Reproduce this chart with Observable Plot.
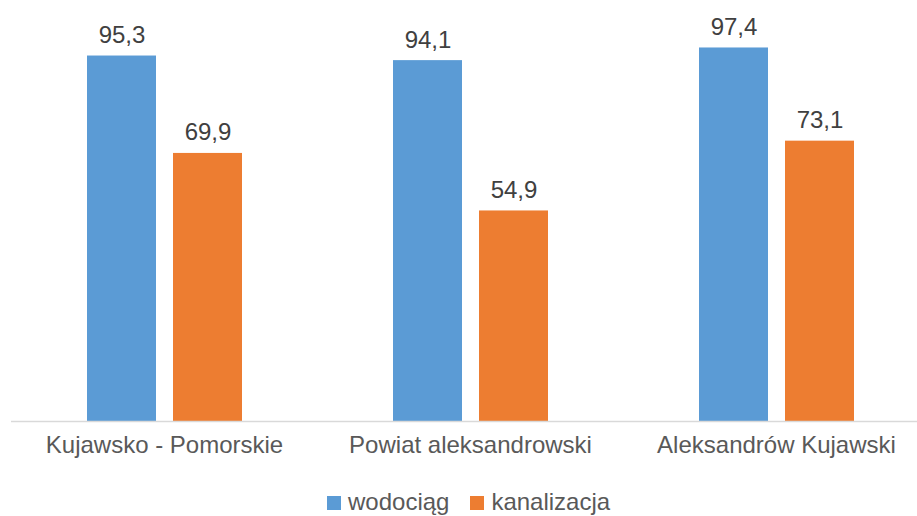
<!DOCTYPE html>
<html>
<head>
<meta charset="utf-8">
<script src="https://cdn.jsdelivr.net/npm/d3@7"></script>
<script src="https://cdn.jsdelivr.net/npm/@observablehq/plot@0.6"></script>
<style>
  html, body { margin: 0; padding: 0; background: #fff; overflow: hidden; }
  body { width: 917px; height: 516px; position: relative; font-family: "Liberation Sans", Arial, sans-serif; }
  #legend { position: absolute; left: 327px; top: 488px; font-size: 24px; line-height: 28px; color: #595959; white-space: nowrap; }
  #legend .item { display: inline-block; margin-right: 21px; }
  #legend .sw { display: inline-block; width: 14px; height: 14px; margin-right: 7px; vertical-align: baseline; }
</style>
</head>
<body>
<div id="chart"></div>
<div id="legend"></div>
<script>
const categories = ["Kujawsko - Pomorskie", "Powiat aleksandrowski", "Aleksandrów Kujawski"];
const series = ["wodociąg", "kanalizacja"];
const wodociag = [95.3, 94.1, 97.4];
const kanalizacja = [69.9, 54.9, 73.1];
const colors = ["#5B9BD5", "#ED7D31"];

const values = [wodociag, kanalizacja];
const data = [];
categories.forEach((c, i) => {
  series.forEach((s, j) => {
    data.push({category: c, series: s, value: values[j][i]});
  });
});
const fmt = d => d.toFixed(1).replace(".", ",");

const chart = Plot.plot({
  width: 917,
  height: 475,
  marginTop: 37.5,
  marginBottom: 54,
  marginLeft: 10,
  marginRight: 0,
  style: {fontFamily: "'Liberation Sans', Arial, sans-serif", background: "#fff", overflow: "visible"},
  fx: {domain: categories, range: [9.5, 929.5], padding: 0, axis: null},
  x: {domain: series, paddingInner: 0.2, paddingOuter: 0.86, axis: null},
  y: {domain: [0, 100], axis: null},
  color: {domain: series, range: colors},
  marks: [
    Plot.barY(data, {fx: "category", x: "series", y: "value", fill: "series"}),
    Plot.ruleY([0], {stroke: "#d9d9d9", strokeWidth: 1.5}),
    Plot.text(data, {fx: "category", x: "series", y: "value", text: d => fmt(d.value), lineAnchor: "bottom", dy: -13, fontSize: 24, fill: "#404040"}),
    Plot.axisFx({anchor: "bottom", tickSize: 0, tickPadding: 14, fontSize: 24, fill: "#595959", label: null})
  ]
});
document.getElementById("chart").appendChild(chart);

const legend = document.getElementById("legend");
series.forEach((s, i) => {
  const item = document.createElement("span");
  item.className = "item";
  const sw = document.createElement("span");
  sw.className = "sw";
  sw.style.background = colors[i];
  item.appendChild(sw);
  item.appendChild(document.createTextNode(s));
  legend.appendChild(item);
});
</script>
</body>
</html>
